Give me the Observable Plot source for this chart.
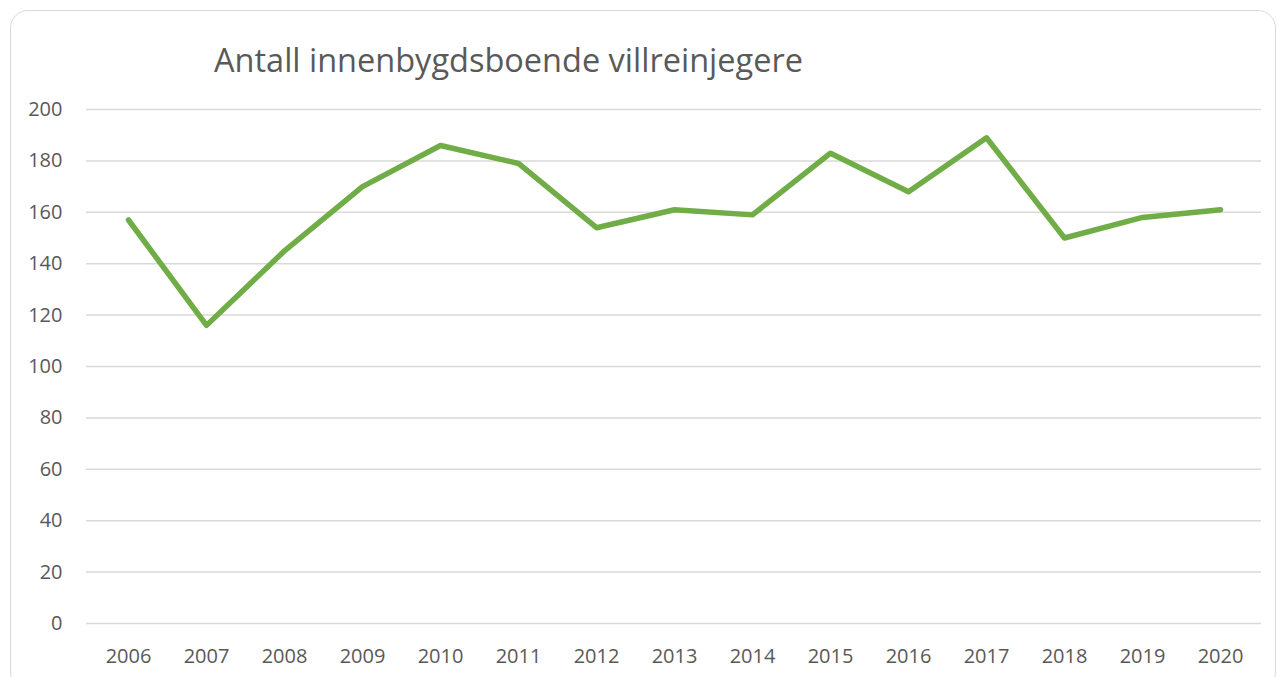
<!DOCTYPE html>
<html>
<head>
<meta charset="utf-8">
<script src="https://cdn.jsdelivr.net/npm/d3@7"></script>
<script src="https://cdn.jsdelivr.net/npm/@observablehq/plot@0.6"></script>
<style>
  html, body { margin: 0; padding: 0; background: #fff; overflow: hidden; }
  #wrap { position: relative; width: 1279px; height: 677px; }
  #card { position: absolute; left: 10px; top: 10px; width: 1266px; height: 680px;
          border: 1.5px solid #d9d9d9; border-radius: 18px; box-sizing: border-box; }
  #title { position: absolute; left: 214px; top: 37px; font-family: "Open Sans", sans-serif;
           font-size: 32.5px; line-height: normal; color: #595959; white-space: nowrap; }
  #chart { position: absolute; left: 0; top: 0; }
</style>
</head>
<body>
<div id="wrap">
  <div id="card"></div>
  <div id="title">Antall innenbygdsboende villreinjegere</div>
  <div id="chart"></div>
</div>
<script>
const years = ["2006","2007","2008","2009","2010","2011","2012","2013","2014","2015","2016","2017","2018","2019","2020"];
const hunters = [157,116,145,170,186,179,154,161,159,183,168,189,150,158,161];
const yTicks = [0,20,40,60,80,100,120,140,160,180,200];

const data = years.map((y, i) => ({year: y, value: hunters[i]}));

const chart = Plot.plot({
  width: 1279,
  height: 677,
  marginLeft: 86,
  marginRight: 18,
  marginTop: 109,
  marginBottom: 54,
  style: {fontFamily: "'Open Sans', sans-serif", fontSize: "20px", color: "#595959", background: "transparent"},
  x: {type: "point", domain: years, padding: 0.5, label: null, tickSize: 0, tickPadding: 25},
  y: {domain: [0, 200], ticks: yTicks, label: null, tickSize: 0, tickPadding: 24},
  marks: [
    Plot.ruleY(yTicks, {stroke: "#d9d9d9", strokeWidth: 1.5}),
    Plot.line(data, {x: "year", y: "value", stroke: "#70ad47", strokeWidth: 5.5, strokeLinejoin: "round", strokeLinecap: "round"})
  ]
});
document.getElementById("chart").appendChild(chart);
</script>
</body>
</html>
